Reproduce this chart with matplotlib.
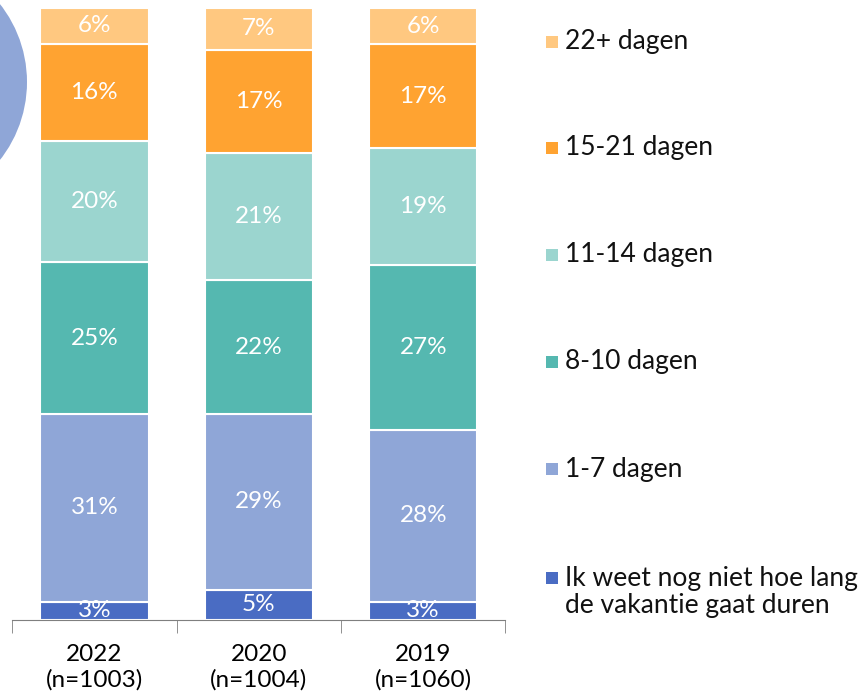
import matplotlib.pyplot as plt
from matplotlib.patches import Circle, Rectangle

plt.rcParams['font.family'] = ['Lato', 'DejaVu Sans']

jaren = ['2022\n(n=1003)', '2020\n(n=1004)', '2019\n(n=1060)']
categorieen = ['Ik weet nog niet hoe lang\nde vakantie gaat duren', '1-7 dagen', '8-10 dagen',
               '11-14 dagen', '15-21 dagen', '22+ dagen']
kleuren = ['#4A6CC3', '#8FA6D7', '#55B8B0', '#9BD5CF', '#FFA331', '#FFC880']

# percentages per categorie (onder naar boven), per jaar
weet_niet = [3, 5, 3]
d1_7 = [31, 29, 28]
d8_10 = [25, 22, 27]
d11_14 = [20, 21, 19]
d15_21 = [16, 17, 17]
d22 = [6, 7, 6]
reeksen = [weet_niet, d1_7, d8_10, d11_14, d15_21, d22]

fig = plt.figure(figsize=(8.64, 6.95), dpi=100)
ax = fig.add_axes([0.014, 0.108, 0.571, 0.881])

# decoratieve cirkel linksboven
fig.patches.append(Circle((-0.99, 6.13), 1.26, transform=fig.dpi_scale_trans,
                          facecolor='#8FA6D7', edgecolor='none', zorder=0))

x = range(len(jaren))
totaal = [sum(r[i] for r in reeksen) for i in x]
bodem = [0, 0, 0]
for reeks, kleur in zip(reeksen, kleuren):
    hoogte = [reeks[i] / totaal[i] * 100 for i in x]
    ax.bar(x, hoogte, bottom=bodem, width=0.66, color=kleur, edgecolor='white', linewidth=1.5)
    for i in x:
        ax.text(i, bodem[i] + hoogte[i] / 2, f'{reeks[i]}%', ha='center', va='center',
                color='white', fontsize=17.5, clip_on=True)
    bodem = [bodem[i] + hoogte[i] for i in x]

ax.set_xlim(-0.5, 2.5)
ax.set_ylim(0, 100)
for s in ['top', 'right', 'left']:
    ax.spines[s].set_visible(False)
ax.spines['bottom'].set_color('#7F7F7F')
ax.set_yticks([])
ax.set_xticks(list(x))
ax.set_xticklabels(jaren, fontsize=17.5, linespacing=1.25)
ax.tick_params(axis='x', which='major', length=0, pad=17)
ax.set_xticks([-0.5, 0.5, 1.5, 2.5], minor=True)
ax.tick_params(axis='x', which='minor', length=9, color='#7F7F7F', direction='out')

# legenda
leg_y = [42, 148, 255, 362, 469, 578]
for y, label, kleur in zip(leg_y[::-1], categorieen, kleuren):
    fy = 1 - y / 695
    fig.patches.append(Rectangle((546 / 864, fy - 6 / 695), 12 / 864, 12 / 695,
                                 transform=fig.transFigure, facecolor=kleur, edgecolor='none'))
    if '\n' in label:
        fig.text(565 / 864, fy + 12 / 695, label, ha='left', va='top',
                 fontsize=19, linespacing=1.12, color='#111111')
    else:
        fig.text(565 / 864, fy, label, ha='left', va='center', fontsize=19, color='#111111')

fig.savefig('out.png', dpi=100)
